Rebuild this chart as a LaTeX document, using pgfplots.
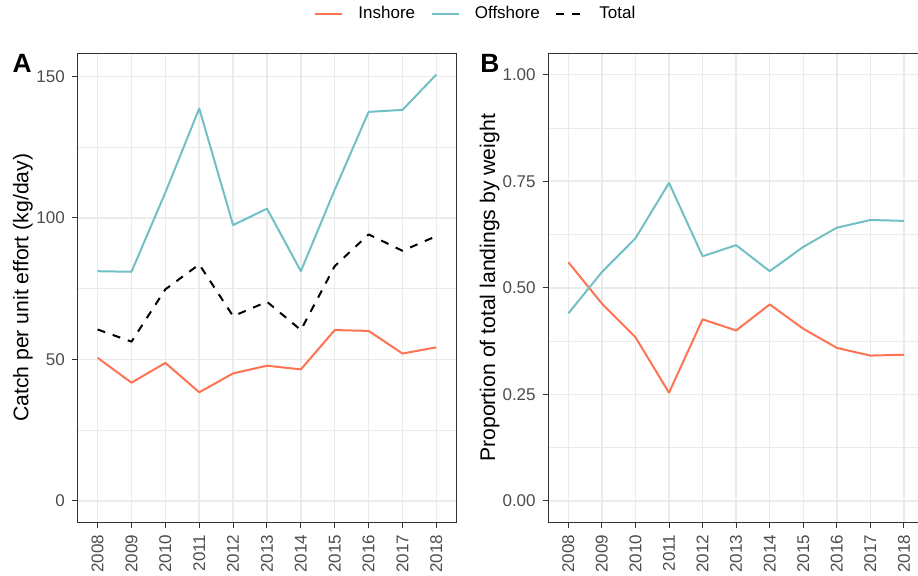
\documentclass[border=0pt]{standalone}
\usepackage{pgfplots}
\pgfplotsset{compat=1.18}
\usepackage{fontspec}
\setmainfont{Liberation Sans}
\definecolor{inshore}{HTML}{FF7352}
\definecolor{offshore}{HTML}{72C0C6}
\definecolor{gridc}{HTML}{EBEBEB}
\definecolor{border}{HTML}{333333}
\definecolor{ticklab}{HTML}{4D4D4D}
\pgfplotsset{
  mystyle/.style={
    scale only axis,
    height=234.5pt,
    xmin=2007.4, xmax=2018.6,
    xtick={2008,2009,...,2018},
    /pgf/number format/assume math mode=true,
    /pgf/number format/1000 sep={},
    tick align=outside,
    tick pos=left,
    major tick length=2.75pt,
    minor tick length=0pt,
    every tick/.style={border, line width=0.5pt},
    axis line style={border, line width=0.5pt},
    ymajorgrids, xmajorgrids, yminorgrids,
    major grid style={gridc, line width=0.75pt},
    minor grid style={gridc, line width=0.4pt},
    tick label style={font=\fontsize{8.5}{10}\selectfont, text=ticklab},
    xticklabel style={rotate=90, anchor=east},
    yticklabel style={anchor=east},
    every axis y label/.style={rotate=90, anchor=center, inner sep=0pt, font=\fontsize{10.6}{12}\selectfont},
    every axis plot/.append style={line width=1pt, line join=round},
  }
}
\begin{document}
\begin{tikzpicture}
\begin{axis}[mystyle,
  at={(38.65pt,26.35pt)}, anchor=south west,
  width=189.7pt,
  ymin=-7.535, ymax=158.2,
  ytick={0,50,100,150},
  minor ytick={25,75,125},
  ylabel={Catch per unit effort (kg/day)},
  y label style={at={(axis description cs:-0.1436,0.5)}},
  legend columns=3,
  legend style={at={(axis description cs:1.048,1.0838)}, anchor=center,
    draw=none, fill=none, inner sep=0pt,
    font=\fontsize{8.5}{10}\selectfont,
    nodes={inner sep=0pt},
    /tikz/every odd column/.append style={column sep=7.5pt},
    /tikz/every even column/.append style={column sep=7.85pt}},
  legend image code/.code={\draw[#1] (0pt,0pt) -- (13.5pt,0pt);},
]
\addplot[inshore] coordinates {(2008,50.6) (2009,41.8) (2010,48.8) (2011,38.4) (2012,45.1) (2013,47.8) (2014,46.5) (2015,60.4) (2016,60.1) (2017,52.1) (2018,54.3)};
\addlegendentry{Inshore}
\addplot[offshore] coordinates {(2008,81.2) (2009,81.0) (2010,109.0) (2011,138.7) (2012,97.5) (2013,103.3) (2014,81.2) (2015,110.0) (2016,137.5) (2017,138.2) (2018,150.7)};
\addlegendentry{Offshore}
\addplot[black, dash pattern=on 4pt off 4pt] coordinates {(2008,60.6) (2009,56.3) (2010,74.8) (2011,83.6) (2012,65.3) (2013,70.4) (2014,60.4) (2015,83.0) (2016,94.2) (2017,88.4) (2018,93.6)};
\addlegendentry{Total}
\end{axis}
\begin{axis}[mystyle,
  at={(274.1pt,26.35pt)}, anchor=south west,
  width=187.95pt,
  ymin=-0.05, ymax=1.05,
  ytick={0,0.25,0.5,0.75,1},
  yticklabels={0.00,0.25,0.50,0.75,1.00},
  minor ytick={0.125,0.375,0.625,0.875},
  ylabel={Proportion of total landings by weight},
  y label style={at={(axis description cs:-0.156,0.5)}},
]
\addplot[inshore] coordinates {(2008,0.560) (2009,0.463) (2010,0.384) (2011,0.254) (2012,0.426) (2013,0.400) (2014,0.461) (2015,0.404) (2016,0.359) (2017,0.341) (2018,0.343)};
\addplot[offshore] coordinates {(2008,0.440) (2009,0.537) (2010,0.616) (2011,0.746) (2012,0.574) (2013,0.600) (2014,0.539) (2015,0.596) (2016,0.641) (2017,0.659) (2018,0.657)};
\end{axis}
\node[anchor=base west, inner sep=0pt, font=\fontsize{13.2}{15}\selectfont\bfseries] at (6.15pt,251.35pt) {A};
\node[anchor=base west, inner sep=0pt, font=\fontsize{13.2}{15}\selectfont\bfseries] at (240pt,251.35pt) {B};
\pgfresetboundingbox
\path (0pt,0pt) rectangle (459pt,287.5pt);
\end{tikzpicture}
\end{document}
